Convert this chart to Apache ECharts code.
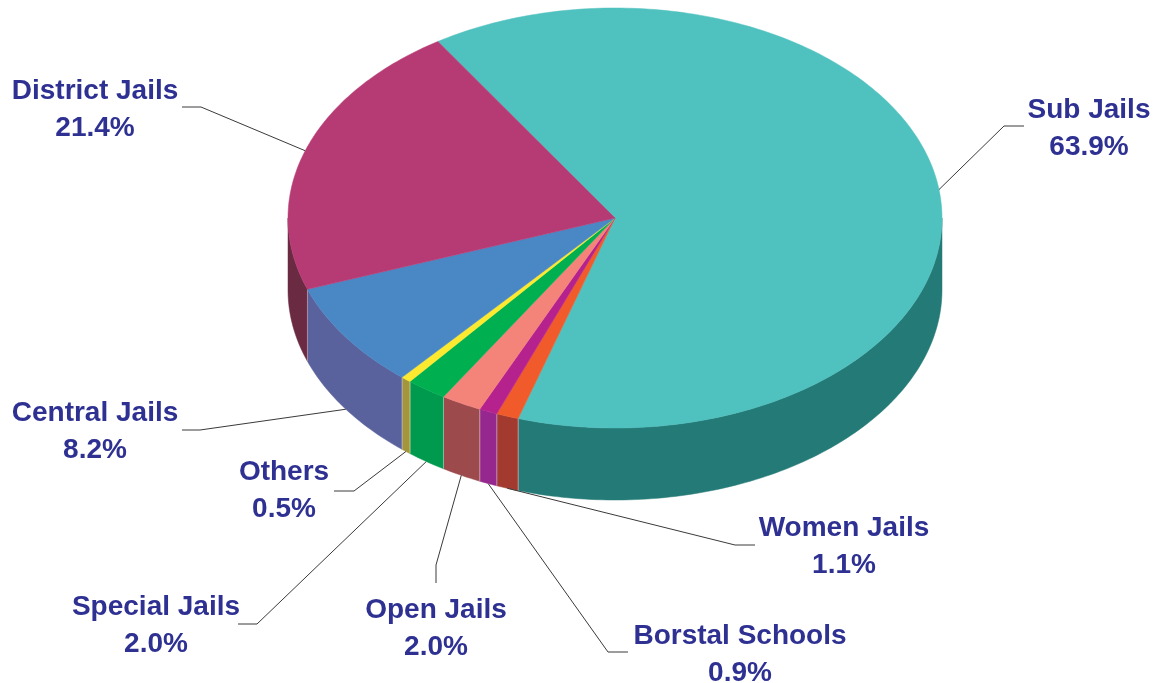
<!DOCTYPE html>
<html>
<head>
<meta charset="utf-8">
<script src="https://cdn.jsdelivr.net/npm/echarts/dist/echarts.min.js"></script>
<style>
html, body { margin: 0; padding: 0; background: #fff; }
#main { width: 1158px; height: 683px; }
</style>
</head>
<body>
<div id="main"></div>
<script>
// slices, clockwise from the Sub Jails / District Jails edge
var names = ['Sub Jails', 'Women Jails', 'Borstal Schools', 'Open Jails', 'Special Jails', 'Others', 'Central Jails', 'District Jails'];
var values = [63.9, 1.1, 0.9, 2.0, 2.0, 0.5, 8.2, 21.4];

var topColors = ['#4fc1bf', '#f15a2a', '#b5228e', '#f4837a', '#00b050', '#fce930', '#4a87c5', '#b63a73'];
var sideColors = ['#247a76', '#a33a30', '#96278f', '#9c4a4c', '#009a4e', '#a3963a', '#5a629d', '#6a2a42'];

// label layout: elbow x,y / line end x,y / text centre x,y
var labelLayout = [
    [1004, 126, 1024, 126, 1089, 129],
    [735, 545, 755, 545, 844, 547],
    [608, 652, 628, 652, 740, 655],
    [436, 565, 436, 583, 436, 629],
    [257, 624, 238, 624, 156, 626],
    [354, 491, 334, 491, 284, 491],
    [200, 430, 182, 430, 95, 432],
    [201, 107, 182, 107, 95, 110]
];

var cx = 615, cy = 218, rx = 327, ry = 210, depth = 72, startAngle = -32.8;

var total = values.reduce(function (a, b) { return a + b; }, 0);
var angles = [];
var acc = startAngle;
values.forEach(function (v) {
    var a0 = acc;
    acc += v / total * 360;
    angles.push([a0, acc]);
});

// angle in degrees, clockwise from 12 o'clock
function pt(deg, dy) {
    var r = deg * Math.PI / 180;
    return [cx + rx * Math.sin(r), cy - ry * Math.cos(r) + (dy || 0)];
}
function arc(a0, a1, dy) {
    var n = Math.max(2, Math.ceil(Math.abs(a1 - a0)));
    var pts = [];
    for (var k = 0; k <= n; k++) pts.push(pt(a0 + (a1 - a0) * k / n, dy));
    return pts;
}

var seriesData = values.map(function (v, i) { return { name: names[i], value: [v] }; });

function renderSide(params, api) {
    var i = params.dataIndex;
    var a0 = Math.max(angles[i][0], 90), a1 = Math.min(angles[i][1], 270);
    if (a1 <= a0) return null;
    var children = [{
        type: 'polygon',
        shape: { points: arc(a0, a1, 0).concat(arc(a1, a0, depth)) },
        style: { fill: sideColors[i], stroke: sideColors[i], lineWidth: 0.5 }
    }];
    [angles[i][0], angles[i][1]].forEach(function (a) {
        if (a > 90 && a < 270) {
            var p = pt(a, 0);
            children.push({
                type: 'line',
                shape: { x1: p[0], y1: p[1], x2: p[0], y2: p[1] + depth },
                style: { stroke: 'rgba(255,255,255,0.35)', lineWidth: 1 }
            });
        }
    });
    return { type: 'group', children: children };
}

function renderTop(params, api) {
    var i = params.dataIndex;
    return {
        type: 'polygon',
        shape: { points: [[cx, cy]].concat(arc(angles[i][0], angles[i][1], 0)) },
        style: { fill: topColors[i], stroke: topColors[i], lineWidth: 0.5 }
    };
}

function renderLabel(params, api) {
    var i = params.dataIndex;
    var mid = (angles[i][0] + angles[i][1]) / 2;
    var front = mid > 90 && mid < 270;
    var p = pt(mid, front ? depth : 0);
    var L = labelLayout[i];
    return {
        type: 'group',
        children: [{
            type: 'polyline',
            shape: { points: [p, [L[0], L[1]], [L[2], L[3]]] },
            style: { stroke: '#3a3a3a', lineWidth: 1, fill: null }
        }, {
            type: 'text',
            x: L[4], y: L[5],
            style: {
                text: names[i] + '\n' + api.value(0).toFixed(1) + '%',
                fill: '#2e3192',
                font: 'bold 28px "Liberation Sans", Arial, sans-serif',
                lineHeight: 37,
                align: 'center',
                verticalAlign: 'middle'
            }
        }]
    };
}

var myChart = echarts.init(document.getElementById('main'));
var option = {
    backgroundColor: '#fff',
    animation: false,
    series: [
        { type: 'custom', coordinateSystem: 'none', renderItem: renderSide, data: seriesData, z: 1, silent: true },
        { type: 'custom', coordinateSystem: 'none', renderItem: renderTop, data: seriesData, z: 2, silent: true },
        { type: 'custom', coordinateSystem: 'none', renderItem: renderLabel, data: seriesData, z: 3, silent: true }
    ]
};
myChart.setOption(option);
</script>
</body>
</html>
